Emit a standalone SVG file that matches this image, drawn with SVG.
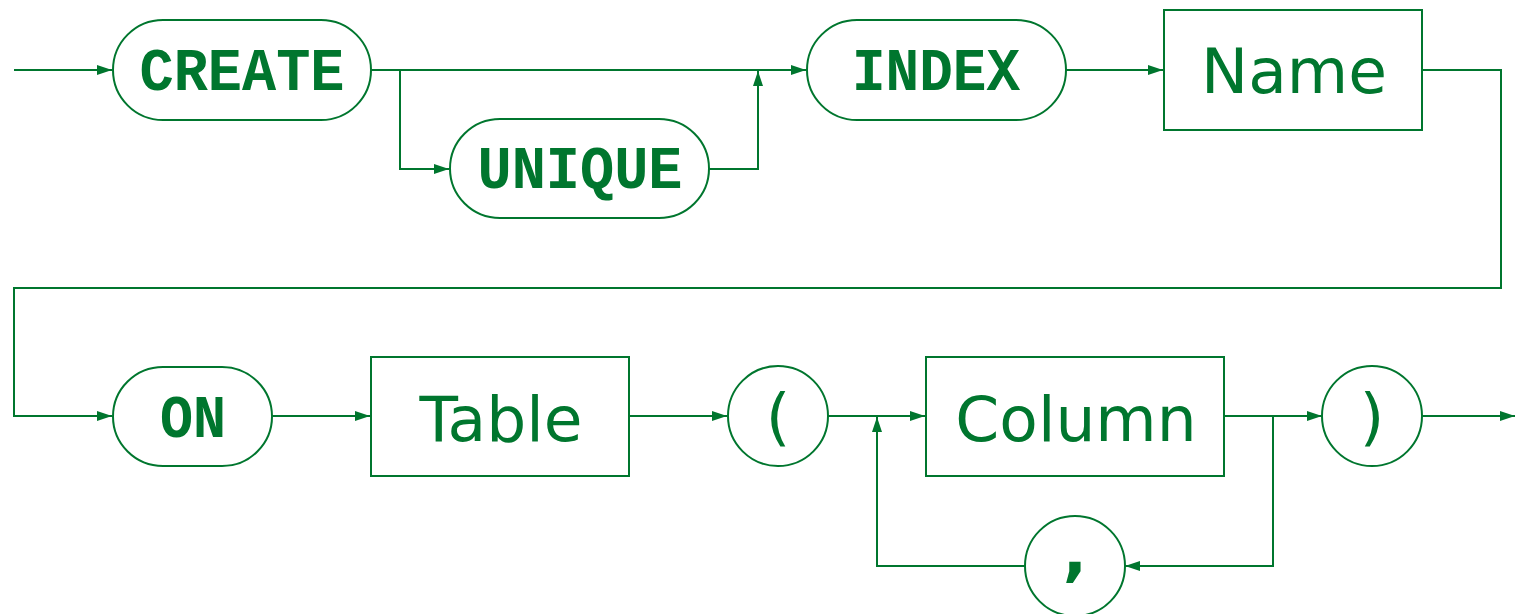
<svg xmlns="http://www.w3.org/2000/svg" width="1515" height="614" viewBox="0 0 1515 614">
<style>
.n{fill:#fff;stroke:#00762e;stroke-width:2}
.c{fill:none;stroke:#00762e;stroke-width:2;stroke-linejoin:miter}
.t{font-family:"Liberation Mono","DejaVu Sans Mono",monospace;font-weight:bold;font-size:62px;fill:#00762e;text-anchor:middle}
.s{font-family:"DejaVu Sans","Open Sans",sans-serif;font-size:63px;fill:#00762e;text-anchor:middle}
.p{font-family:"DejaVu Sans","Open Sans",sans-serif;font-size:64px;font-weight:bold;fill:#00762e;text-anchor:middle}
</style>
<defs>
<marker id="a" markerWidth="16" markerHeight="11" refX="15" refY="5.5" orient="auto" markerUnits="userSpaceOnUse">
<path d="M0,0.5 L15,5.5 L0,10.5 Z" fill="#00762e"/>
</marker>
</defs>
<rect width="1515" height="614" fill="#fff"/>
<g id="connectors">
<path class="c" d="M14,70 H112" marker-end="url(#a)"/>
<path class="c" d="M371,70 H806" marker-end="url(#a)"/>
<path class="c" d="M400,70 V169 H449" marker-end="url(#a)"/>
<path class="c" d="M709,169 H758 V71" marker-end="url(#a)"/>
<path class="c" d="M1066,70 H1163" marker-end="url(#a)"/>
<path class="c" d="M1422,70 H1501 V288 H14 V416 H112" marker-end="url(#a)"/>
<path class="c" d="M272,416 H370" marker-end="url(#a)"/>
<path class="c" d="M629,416 H727" marker-end="url(#a)"/>
<path class="c" d="M827,416 H925" marker-end="url(#a)"/>
<path class="c" d="M1224,416 H1322" marker-end="url(#a)"/>
<path class="c" d="M1273,416 V566 H1125" marker-end="url(#a)"/>
<path class="c" d="M1025,566 H877 V417" marker-end="url(#a)"/>
<path class="c" d="M1422,416 H1515" marker-end="url(#a)"/>
</g>
<g id="create"><rect class="n" x="113" y="20" width="258" height="100" rx="50"/><text class="t" x="242" y="90" textLength="205" lengthAdjust="spacingAndGlyphs">CREATE</text></g>
<g id="unique"><rect class="n" x="450" y="119" width="259" height="99" rx="50"/><text class="t" x="580" y="188" textLength="205" lengthAdjust="spacingAndGlyphs">UNIQUE</text></g>
<g id="index"><rect class="n" x="807" y="20" width="259" height="100" rx="50"/><text class="t" x="936" y="90" textLength="168" lengthAdjust="spacingAndGlyphs">INDEX</text></g>
<g id="name"><rect class="n" x="1164" y="10" width="258" height="120"/><text class="s" x="1294" y="93">Name</text></g>
<g id="on"><rect class="n" x="113" y="367" width="159" height="99" rx="50"/><text class="t" x="193" y="437" textLength="66" lengthAdjust="spacingAndGlyphs">ON</text></g>
<g id="table"><rect class="n" x="371" y="357" width="258" height="119"/><text class="s" x="501" y="441">Table</text></g>
<g id="lparen"><circle class="n" cx="778" cy="416" r="50"/><text class="s" x="778" y="438">(</text></g>
<g id="column"><rect class="n" x="926" y="357" width="298" height="119"/><text class="s" x="1076" y="441">Column</text></g>
<g id="rparen"><circle class="n" cx="1372" cy="416" r="50"/><text class="s" x="1372" y="438">)</text></g>
<g id="comma"><circle class="n" cx="1075" cy="566" r="50"/><text class="p" x="1075" y="574">,</text></g>
</svg>
